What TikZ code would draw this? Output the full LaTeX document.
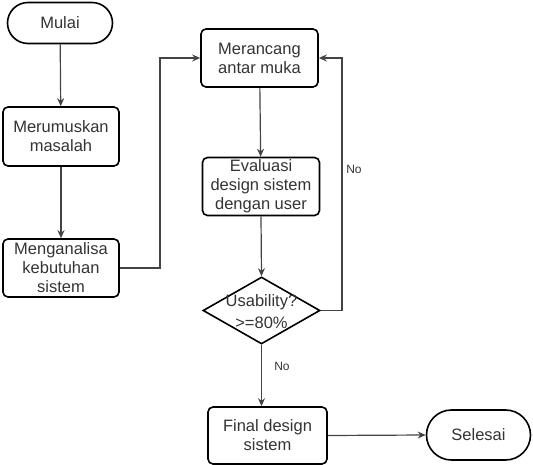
\documentclass[tikz,border=0pt]{standalone}
\usepackage{fontspec}
\setmainfont{Liberation Sans}
\usetikzlibrary{shapes.geometric,shapes.misc,arrows.meta}
\definecolor{txtc}{HTML}{333333}
\definecolor{linec}{HTML}{444444}
\begin{document}
\begin{tikzpicture}[x=1pt,y=-1pt,
  every node/.style={text=txtc,font=\fontsize{16.5}{19}\selectfont,align=center},
  procbox/.style={draw=black,line width=1.6pt,rounded corners=5pt,inner sep=0pt},
  termbox/.style={draw=black,line width=1.6pt,rounded rectangle,inner sep=0pt},
  decbox/.style={draw=black,line width=1.6pt,diamond,inner sep=0pt},
  conn/.style={draw=linec,line width=1.2pt,-{Stealth[length=8pt,width=7pt]}},
  connplain/.style={draw=linec,line width=1.2pt},
  lbl/.style={font=\fontsize{12}{14}\selectfont}]
\useasboundingbox (0,0) rectangle (533,465);

\node[termbox,minimum width=105pt,minimum height=41pt] (mulai) at (60,23) {Mulai};
\node[procbox,minimum width=116pt,minimum height=59pt] (rum) at (61,136.5) {Merumuskan\\masalah};
\node[procbox,minimum width=116pt,minimum height=58pt] (ana) at (61,268) {Menganalisa\\kebutuhan\\sistem};
\node[procbox,minimum width=117pt,minimum height=58pt] (ran) at (259.5,58) {Merancang\\antar muka};
\node[procbox,minimum width=117pt,minimum height=58pt] (eva) at (261,186.5) {Evaluasi\\design sistem\\dengan user};
\node[decbox,minimum width=117pt,minimum height=67pt] (dec) at (261.5,310.5) {};
\node[font=\fontsize{16.5}{22}\selectfont] (dectxt) at (261.5,311.5) {Usability?\\>=80\%};
\node[procbox,minimum width=119pt,minimum height=57pt] (fin) at (267.5,435.5) {Final design\\sistem};
\node[termbox,minimum width=104pt,minimum height=50pt] (sel) at (478.5,435) {Selesai};

\coordinate (b1) at (160,58);
\coordinate (b2) at (342,58);

\draw[conn] (mulai) -- (rum);
\draw[conn] (rum) -- (ana);
\draw[conn] (ana.east) -| (b1) -- (ran.west);
\draw[conn] (ran) -- (eva);
\draw[conn] (eva.south) -- (dec.north);
\draw[conn] (dec.east) -| (b2) -- (ran.east);
\draw[conn] (dec.south) -- (dec.south |- fin.north);
\draw[conn] (fin.east) -- (sel.west);

\node[lbl] (no1) at (354,169) {No};
\node[lbl] (no2) at (282,366) {No};
\end{tikzpicture}
\end{document}
